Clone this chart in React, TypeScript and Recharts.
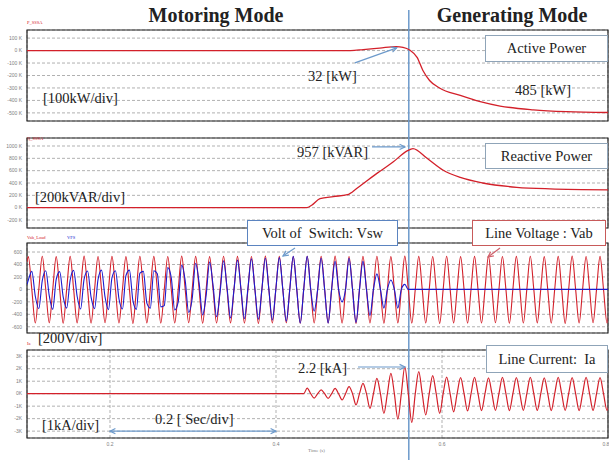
import React from 'react';
import {
  LineChart,
  Line,
  XAxis,
  YAxis,
  CartesianGrid,
  ReferenceLine,
  ReferenceArea
} from 'recharts';

// shared time axis [s]
const T_DOMAIN: [number, number] = [0.1, 0.8];
const TIME_TICKS = [0.2, 0.4, 0.6, 0.8];
const SWITCH_T = 0.56;

// active power [kW]
const P_TIME = [0.1, 0.49, 0.505, 0.525, 0.545, 0.553, 0.561, 0.57, 0.577, 0.585, 0.597, 0.622, 0.646, 0.67, 0.71, 0.75, 0.8];
const P_KW = [0, 0, 8, 20, 32, 26, 5, -55, -160, -240, -300, -360, -410, -445, -475, -490, -497];
const P_TICKS = [100, 0, -100, -200, -300, -400, -500];

// reactive power [kVAR]
const Q_TIME = [0.1, 0.437, 0.443, 0.453, 0.469, 0.486, 0.498, 0.522, 0.541, 0.558, 0.565, 0.582, 0.601, 0.622, 0.649, 0.69, 0.73, 0.8];
const Q_KVAR = [0, 0, 40, 145, 180, 210, 320, 560, 740, 920, 957, 800, 610, 490, 400, 330, 305, 290];
const Q_TICKS = [1000, 800, 600, 400, 200, 0, -200];

// waveforms: one entry per 60 Hz cycle, read at each Vab peak / trough
const FIRST_PEAK_T = 0.1016;
const CYCLE_S = 0.0168;
const VAB_PEAK = [
  528, 532, 526, 530, 534, 528, 530, 526, 532, 530, 528, 534, 530, 526,
  532, 530, 528, 534, 530, 526, 532, 530, 534, 528, 530, 532, 526, 534,
  530, 528, 532, 526, 530, 534, 528, 530, 532, 526, 530, 534, 528, 530
];
const VAB_TROUGH = [
  -540, -536, -544, -538, -542, -536, -540, -546, -538, -542, -540, -536, -544, -540,
  -538, -542, -546, -540, -536, -544, -540, -538, -542, -546, -540, -544, -538, -542,
  -540, -546, -538, -542, -540, -536, -544, -540, -538, -542, -546, -540, -536, -540
];
// switch voltage at Vab peak, falling zero, trough, rising zero
const VSW_A = [
  150, 140, 160, 150, 165, 160, 190, 220, 260, 300, 350, 390, 420, 440,
  460, 470, 490, 500, 510, 530, 530, 500, 450, 500, 450, 250, 150, 80,
  0, 0, 0, 0, 0, 0, 0, 0, 0, 0, 0, 0, 0, 0
];
const VSW_B = [
  290, 300, 285, 305, 295, 310, 300, 310, 290, 250, 190, 140, 100, 60,
  30, 0, 0, 0, 0, 0, 0, 0, 0, 0, 0, 0, 0, 0,
  0, 0, 0, 0, 0, 0, 0, 0, 0, 0, 0, 0, 0, 0
];
const VSW_C = [
  -110, -100, -120, -110, -125, -120, -150, -180, -220, -280, -330, -370, -410, -440,
  -460, -470, -480, -490, -510, -540, -350, -540, -200, -530, -420, -300, -300, 0,
  0, 0, 0, 0, 0, 0, 0, 0, 0, 0, 0, 0, 0, 0
];
const VSW_D = [
  -310, -320, -300, -315, -310, -325, -315, -320, -300, -260, -200, -150, -100, -50,
  0, 20, 0, 0, 0, 0, 0, 0, 0, 0, 0, 0, 0, 0,
  0, 0, 0, 0, 0, 0, 0, 0, 0, 0, 0, 0, 0, 0
];
const V_TICKS = [600, 400, 200, 0, -200, -400, -600];

// line current [kA]
const IA_PEAK = [
  0, 0, 0, 0, 0, 0, 0, 0, 0, 0, 0, 0, 0, 0,
  0, 0, 0, 0, 0, 0, 0.45, 0.3, 0.43, 0.56, 0.83, 1.23, 1.63, 2.16,
  1.76, 1.44, 1.32, 1.28, 1.3, 1.27, 1.3, 1.28, 1.3, 1.27, 1.3, 1.28, 1.3, 1.28
];
const IA_TROUGH = [
  0, 0, 0, 0, 0, 0, 0, 0, 0, 0, 0, 0, 0, 0,
  0, 0, 0, 0, 0, 0, -0.35, -0.37, -0.5, -0.9, -1.17, -1.57, -2.03, -2.3,
  -1.7, -1.57, -1.45, -1.38, -1.35, -1.33, -1.35, -1.33, -1.34, -1.35, -1.33, -1.35, -1.34, -1.33
];
const I_TICKS = [3, 2, 1, 0, -1, -2, -3];

const pData = P_TIME.map((t, i) => ({ t, p: P_KW[i] }));
const qData = Q_TIME.map((t, i) => ({ t, q: Q_KVAR[i] }));
const waveData = [
  { t: 0.1, vab: 440, vsw: 80, ia: 0 },
  ...VAB_PEAK.flatMap((peak, k) => {
    const t = FIRST_PEAK_T + k * CYCLE_S;
    const q = CYCLE_S / 4;
    return [
      { t, vab: peak, vsw: VSW_A[k], ia: IA_PEAK[k] },
      { t: t + q, vab: 0, vsw: VSW_B[k], ia: 0 },
      { t: t + 2 * q, vab: VAB_TROUGH[k], vsw: VSW_C[k], ia: IA_TROUGH[k] },
      { t: t + 3 * q, vab: 0, vsw: VSW_D[k], ia: 0 }
    ];
  })
];

const RED = '#d3202a';
const BLUE = '#1a1ad0';
const STEEL = '#6d9acb';
const SERIF = '"Liberation Serif", "Times New Roman", serif';
const NBSP = '\u00A0';
const tickStyle = { fontSize: 5, fill: '#808080', fontFamily: '"Liberation Sans", Arial, sans-serif' };

const arrowShape = (color: string, both = false) => (p: any) => {
  const { x1, y1, x2, y2 } = p;
  const a = Math.atan2(y2 - y1, x2 - x1);
  const head = (x: number, y: number, ang: number) =>
    `M${x - 6 * Math.cos(ang - 0.45)},${y - 6 * Math.sin(ang - 0.45)} L${x},${y} L${x - 6 * Math.cos(ang + 0.45)},${y - 6 * Math.sin(ang + 0.45)}`;
  return (
    <g>
      <line x1={x1} y1={y1} x2={x2} y2={y2} stroke={color} strokeWidth={1.2} />
      <path d={head(x2, y2, a)} fill="none" stroke={color} strokeWidth={1.2} />
      {both && <path d={head(x1, y1, a + Math.PI)} fill="none" stroke={color} strokeWidth={1.2} />}
    </g>
  );
};

function frame(yDomain: [number, number], yTicks: number[], fmt: (v: number) => string, span: [number, number], showTime = false) {
  return [
    <CartesianGrid key="grid" stroke="#8f8f8f" strokeWidth={0.7} strokeDasharray="3 2" />,
    <XAxis
      key="x"
      type="number"
      dataKey="t"
      domain={T_DOMAIN}
      ticks={TIME_TICKS}
      allowDataOverflow
      height={showTime ? 12 : 0}
      tick={showTime ? tickStyle : false}
      axisLine={false}
      tickLine={false}
      tickSize={2}
      tickFormatter={(v: number) => v.toFixed(1)}
    />,
    <YAxis
      key="y"
      type="number"
      domain={yDomain}
      ticks={yTicks}
      allowDataOverflow
      interval={0}
      width={22}
      tick={tickStyle}
      axisLine={false}
      tickLine={false}
      tickSize={3}
      tickMargin={2}
      tickFormatter={fmt}
    />,
    <ReferenceArea key="box" x1={T_DOMAIN[0]} x2={T_DOMAIN[1]} y1={yDomain[0]} y2={yDomain[1]} fill="none" fillOpacity={0} stroke="#222" strokeWidth={1.2} />,
    <ReferenceLine key="sw" segment={[{ x: SWITCH_T, y: span[0] }, { x: SWITCH_T, y: span[1] }]} ifOverflow="visible" stroke={STEEL} strokeWidth={1.5} />
  ];
}

const Txt = ({ x, y, size = 14.5, color = '#222', bold = false, center = false, children }: any) => (
  <div
    style={{
      position: 'absolute',
      left: x,
      top: y,
      transform: `translate(${center ? '-50%' : '0'}, -50%)`,
      fontSize: size,
      lineHeight: 1,
      color,
      fontWeight: bold ? 700 : 400,
      fontFamily: SERIF,
      whiteSpace: 'pre'
    }}
  >
    {children}
  </div>
);

const Box = ({ x, y, w, h, border, children }: any) => (
  <div
    style={{
      position: 'absolute',
      left: x,
      top: y,
      width: w,
      height: h,
      boxSizing: 'border-box',
      border: `1.5px solid ${border}`,
      background: '#fff',
      display: 'flex',
      alignItems: 'center',
      justifyContent: 'center',
      fontFamily: SERIF,
      fontSize: 14.5,
      color: '#222',
      whiteSpace: 'pre'
    }}
  >
    {children}
  </div>
);

const chartPos = (top: number) => ({ position: 'absolute' as const, left: 0, top });

export default function App() {
  return (
    <div style={{ position: 'absolute', left: 0, top: 0, width: 609, height: 460, background: '#fff', overflow: 'hidden' }}>
      <div style={chartPos(0)}>
        <LineChart width={609} height={125} data={pData} margin={{ top: 30, right: 1, bottom: 4, left: 5 }}>
          {frame([-565, 165], P_TICKS, (v) => `${v}${NBSP}K`, [325, -1000])}
          <Line type="monotone" dataKey="p" stroke={RED} strokeWidth={1.3} dot={false} isAnimationActive={false} />
          <ReferenceLine segment={[{ x: 0.495, y: -99 }, { x: 0.5455, y: 22 }]} ifOverflow="visible" shape={arrowShape(STEEL)} />
        </LineChart>
      </div>
      <div style={chartPos(125)}>
        <LineChart width={609} height={105} data={qData} margin={{ top: 13, right: 1, bottom: 2, left: 5 }}>
          {frame([-330, 1130], Q_TICKS, (v) => `${v}${NBSP}K`, [3000, -3000])}
          <Line type="monotone" dataKey="q" stroke={RED} strokeWidth={1.3} dot={false} isAnimationActive={false} />
          <ReferenceLine segment={[{ x: 0.5157, y: 985 }, { x: 0.5554, y: 985 }]} ifOverflow="visible" shape={arrowShape(STEEL)} />
        </LineChart>
      </div>
      <div style={chartPos(230)}>
        <LineChart width={609} height={110} data={waveData} margin={{ top: 13, right: 1, bottom: 7, left: 5 }}>
          {frame([-700, 745], V_TICKS, (v) => `${v}`, [3000, -3000])}
          <Line type="monotone" dataKey="vab" stroke={RED} strokeWidth={1.1} dot={false} isAnimationActive={false} />
          <Line type="monotone" dataKey="vsw" stroke={BLUE} strokeWidth={1.1} dot={false} isAnimationActive={false} />
          <ReferenceLine segment={[{ x: 0.4229, y: 665 }, { x: 0.4084, y: 536 }]} ifOverflow="visible" shape={arrowShape(STEEL)} />
          <ReferenceLine segment={[{ x: 0.6699, y: 665 }, { x: 0.6554, y: 520 }]} ifOverflow="visible" shape={arrowShape('#d0606a')} />
        </LineChart>
      </div>
      <div style={chartPos(340)}>
        <LineChart width={609} height={120} data={waveData} margin={{ top: 10, right: 1, bottom: 10, left: 5 }}>
          {frame([-3.55, 3.5], I_TICKS, (v) => `${v}K`, [20, -20], true)}
          <Line type="monotone" dataKey="ia" stroke={RED} strokeWidth={1.2} dot={false} isAnimationActive={false} />
          <ReferenceLine segment={[{ x: 0.4988, y: 2.14 }, { x: 0.5554, y: 2.14 }]} ifOverflow="visible" shape={arrowShape(STEEL)} />
          <ReferenceLine segment={[{ x: 0.2, y: -3 }, { x: 0.4, y: -3 }]} ifOverflow="visible" shape={arrowShape(STEEL, true)} />
        </LineChart>
      </div>

      <Txt x={216} y={15} size={20} bold center>Motoring Mode</Txt>
      <Txt x={512} y={15} size={20} bold center>Generating Mode</Txt>

      <Txt x={27} y={23} size={4.5} color={RED}>P_SSSA</Txt>
      <Txt x={27} y={139} size={4.5} color={RED}>Q_SSSA</Txt>
      <Txt x={27} y={238} size={4.5} color={RED}>Vab_Load</Txt>
      <Txt x={67} y={238} size={4.5} color={BLUE}>VFS</Txt>
      <Txt x={27} y={344} size={4.5} color={RED}>Ia</Txt>
      <Txt x={308} y={450} size={5} color="#808080">Time (s)</Txt>

      <Box x={485} y={35} w={123} h={27} border="#8fa4b8">Active Power</Box>
      <Box x={485} y={143} w={123} h={26} border="#8fa4b8">Reactive Power</Box>
      <Box x={247} y={220} w={151} h={26} border="#5b84c0">Volt of  Switch: Vsw</Box>
      <Box x={472} y={220} w={134} h={26} border="#c85a5a">Line Voltage : Vab</Box>
      <Box x={486} y={345} w={122} h={28} border="#8fa4b8">Line Current:  Ia</Box>

      <Txt x={43} y={98}>[100kW/div]</Txt>
      <Txt x={308} y={76}>32 [kW]</Txt>
      <Txt x={515} y={90}>485 [kW]</Txt>
      <Txt x={35} y={197}>[200kVAR/div]</Txt>
      <Txt x={297} y={152}>957 [kVAR]</Txt>
      <Txt x={38} y={338}>[200V/div]</Txt>
      <Txt x={298} y={368}>2.2 [kA]</Txt>
      <Txt x={42} y={425}>[1kA/div]</Txt>
      <Txt x={155} y={419}>0.2 [ Sec/div]</Txt>
    </div>
  );
}
